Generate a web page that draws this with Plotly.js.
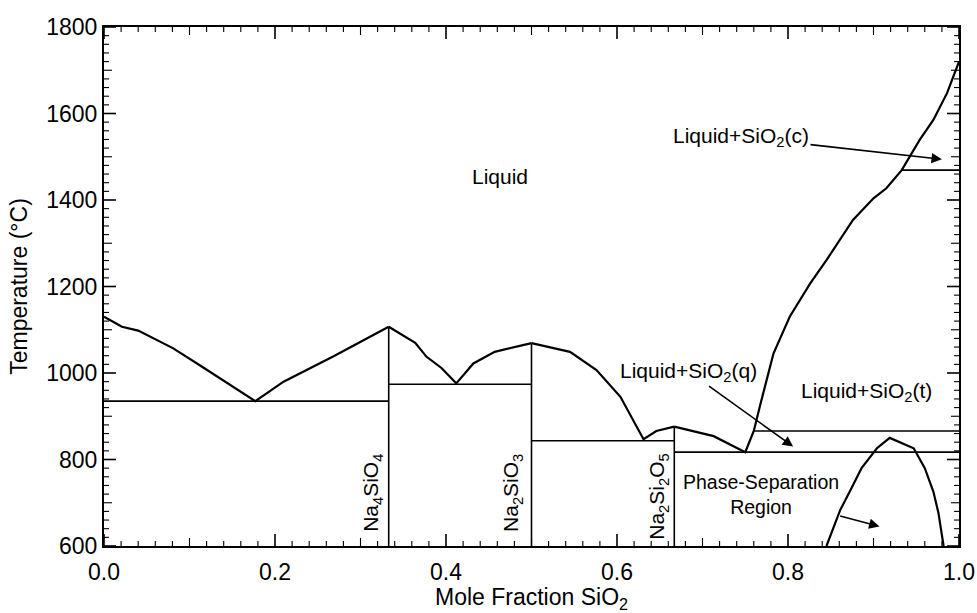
<!DOCTYPE html>
<html>
<head>
<meta charset="utf-8">
<script src="https://cdn.plot.ly/plotly-3.0.1.min.js"></script>
<style>html,body{margin:0;padding:0;background:#fff;}#chart{width:977px;height:613px;}</style>
</head>
<body>
<div id="chart"></div>
<script>
// Liquidus segments (mole fraction SiO2, temperature °C)
const liq1X = [0, 0.021, 0.040, 0.081, 0.112, 0.177, 0.21, 0.268, 0.333];
const liq1T = [1130, 1107, 1098, 1057, 1018, 935, 980, 1038, 1107];
const liq2X = [0.333, 0.364, 0.377, 0.395, 0.412, 0.432, 0.457, 0.5];
const liq2T = [1107, 1070, 1038, 1011, 976, 1022, 1049, 1069];
const liq3X = [0.5, 0.545, 0.576, 0.604, 0.631, 0.646, 0.667];
const liq3T = [1069, 1049, 1007, 945, 847, 866, 876];
const liq4X = [0.667, 0.685, 0.713, 0.75, 0.760, 0.768, 0.783, 0.802, 0.826, 0.845, 0.861, 0.876, 0.9, 0.915, 0.933, 0.954, 0.97, 0.986, 1.0];
const liq4T = [876, 868, 854, 817, 866, 930, 1045, 1130, 1207, 1261, 1308, 1354, 1404, 1427, 1469, 1539, 1585, 1647, 1720];

// Isotherms (invariant lines): start x, end x, temperature
const isoX0 = [0, 0.333, 0.5, 0.667, 0.760, 0.933];
const isoX1 = [0.333, 0.5, 0.667, 1.0, 1.0, 1.0];
const isoT  = [935, 974, 843.5, 817, 866, 1469];

// Compound lines: composition, top temperature
const compX = [0.333, 0.5, 0.667];
const compT = [1107, 1069, 876];
const compNames = ["Na<sub>4</sub>SiO<sub>4</sub>", "Na<sub>2</sub>SiO<sub>3</sub>", "Na<sub>2</sub>Si<sub>2</sub>O<sub>5</sub>"];

// Phase-separation dome
const domeX = [0.845, 0.861, 0.873, 0.886, 0.904, 0.919, 0.947, 0.960, 0.970, 0.976, 0.982];
const domeT = [600, 683, 729, 780, 826, 850, 826, 780, 726, 676, 600];

const Tmin = 600;
const FONT = 'Liberation Sans, Arial, sans-serif';

const traces = [];
const curve = {color: '#000', width: 2.2};
[[liq1X, liq1T], [liq2X, liq2T], [liq3X, liq3T], [liq4X, liq4T], [domeX, domeT]].forEach(([x, y]) => {
  traces.push({x: x, y: y, mode: 'lines', line: curve, hoverinfo: 'skip', showlegend: false});
});
const thin = {color: '#000', width: 1.6};
for (let i = 0; i < isoT.length; i++) {
  traces.push({x: [isoX0[i], isoX1[i]], y: [isoT[i], isoT[i]], mode: 'lines', line: thin, hoverinfo: 'skip', showlegend: false});
}
for (let i = 0; i < compX.length; i++) {
  traces.push({x: [compX[i], compX[i]], y: [Tmin, compT[i]], mode: 'lines', line: thin, hoverinfo: 'skip', showlegend: false});
}

const afont = {family: FONT, size: 21, color: '#000'};
const arrowStyle = {showarrow: true, arrowhead: 2, arrowsize: 1.3, arrowwidth: 1.6, arrowcolor: '#000', axref: 'x', ayref: 'y'};
const annotations = [
  {x: 0.463, y: 1455, text: 'Liquid', showarrow: false, font: afont},
  Object.assign({x: 0.980, y: 1494, ax: 0.745, ay: 1546, text: 'Liquid+SiO<sub>2</sub>(c)', font: afont}, arrowStyle),
  Object.assign({x: 0.806, y: 830, ax: 0.684, ay: 1003, text: 'Liquid+SiO<sub>2</sub>(q)', font: afont}, arrowStyle),
  {x: 0.892, y: 957, text: 'Liquid+SiO<sub>2</sub>(t)', showarrow: false, font: afont},
  Object.assign({x: 0.907, y: 645, ax: 0.768, ay: 719, text: 'Phase-Separation<br>Region', font: {family: FONT, size: 19.5, color: '#000'}}, arrowStyle)
];
const compLabelX = [0.314, 0.478, 0.648];
const compLabelT = [724, 722, 714];
for (let i = 0; i < compX.length; i++) {
  annotations.push({x: compLabelX[i], y: compLabelT[i], yanchor: 'middle', xanchor: 'center', text: compNames[i], textangle: -90,
    showarrow: false, font: afont});
}

// Tick marks drawn as pixel-length shapes on all four sides (major / mid / minor)
const shapes = [];
function tickLine(len) { return len >= 12 ? 1.6 : 1.1; }
for (let k = 0; k <= 50; k++) {
  const v = k / 50;
  const len = k % 10 === 0 ? 12 : (k % 5 === 0 ? 8 : 5);
  const line = {color: '#000', width: tickLine(len)};
  shapes.push({type: 'line', xref: 'x', yref: 'paper', ysizemode: 'pixel', yanchor: 0, x0: v, x1: v, y0: 0, y1: len, line: line, layer: 'above'});
  shapes.push({type: 'line', xref: 'x', yref: 'paper', ysizemode: 'pixel', yanchor: 1, x0: v, x1: v, y0: 0, y1: -len, line: line, layer: 'above'});
}
for (let k = 0; k <= 60; k++) {
  const v = 600 + 20 * k;
  const len = k % 10 === 0 ? 12 : (k % 5 === 0 ? 8 : 5);
  const line = {color: '#000', width: tickLine(len)};
  shapes.push({type: 'line', yref: 'y', xref: 'paper', xsizemode: 'pixel', xanchor: 0, y0: v, y1: v, x0: 0, x1: len, line: line, layer: 'above'});
  shapes.push({type: 'line', yref: 'y', xref: 'paper', xsizemode: 'pixel', xanchor: 1, y0: v, y1: v, x0: 0, x1: -len, line: line, layer: 'above'});
}

const tfont = {family: FONT, size: 23, color: '#000'};
const layout = {
  width: 977, height: 613,
  margin: {l: 104, r: 18, t: 27, b: 67},
  showlegend: false,
  xaxis: {
    range: [0, 1], dtick: 0.2, tickformat: '.1f',
    showgrid: false, zeroline: false, showline: true, linewidth: 2, linecolor: '#000', mirror: true,
    ticks: '', tickfont: tfont, ticklabelstandoff: 4,
    title: {text: 'Mole Fraction SiO<sub>2</sub>', font: {family: FONT, size: 23, color: '#000'}, standoff: 12}
  },
  yaxis: {
    range: [600, 1800], dtick: 200,
    showgrid: false, zeroline: false, showline: true, linewidth: 2, linecolor: '#000', mirror: true,
    ticks: '', tickfont: tfont,
    title: {text: 'Temperature (°C)', font: {family: FONT, size: 23, color: '#000'}, standoff: 12}
  },
  shapes: shapes,
  annotations: annotations
};

Plotly.newPlot('chart', traces, layout, {displayModeBar: false});
</script>
</body>
</html>
